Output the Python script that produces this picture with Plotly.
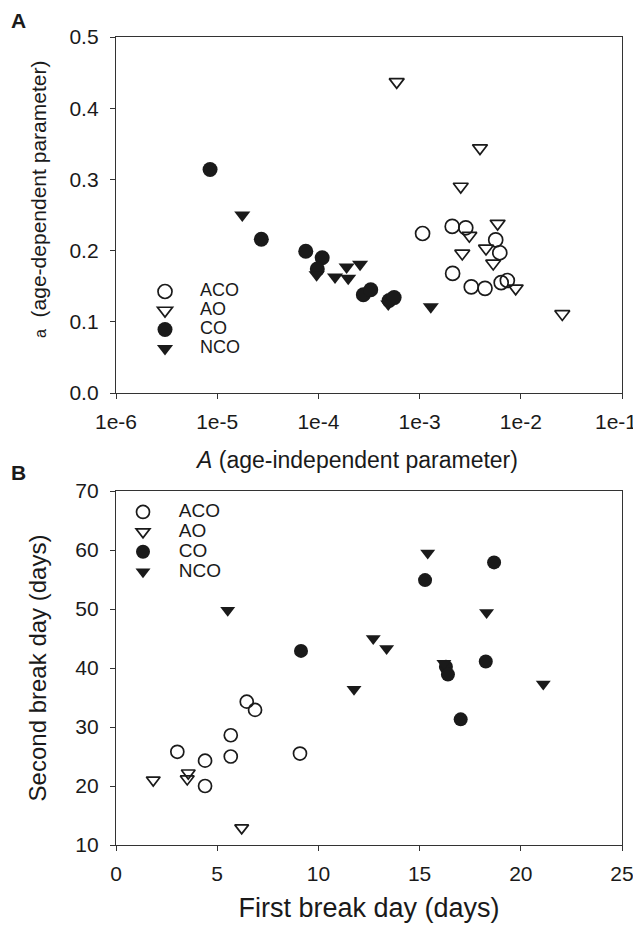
import plotly.graph_objects as go

# ---------------- Panel A data ----------------
aco_A_x = [1.07e-3, 2.1e-3, 2.86e-3, 5.65e-3, 6.2e-3, 2.12e-3, 3.24e-3, 4.43e-3, 6.4e-3, 7.36e-3]
aco_A_y = [0.224, 0.234, 0.232, 0.215, 0.197, 0.168, 0.149, 0.147, 0.155, 0.158]
ao_A_x = [5.94e-4, 3.95e-3, 2.55e-3, 5.9e-3, 3.1e-3, 2.64e-3, 4.53e-3, 5.34e-3, 8.9e-3, 2.57e-2]
ao_A_y = [0.437, 0.344, 0.290, 0.238, 0.221, 0.196, 0.203, 0.182, 0.147, 0.111]
co_A_x = [8.5e-6, 2.73e-5, 7.5e-5, 1.09e-4, 9.75e-5, 2.78e-4, 3.29e-4, 5.0e-4, 5.6e-4]
co_A_y = [0.314, 0.216, 0.199, 0.190, 0.174, 0.138, 0.145, 0.130, 0.134]
nco_A_x = [1.77e-5, 9.6e-5, 1.46e-4, 1.9e-4, 1.97e-4, 2.58e-4, 4.9e-4, 1.29e-3]
nco_A_y = [0.250, 0.166, 0.163, 0.177, 0.161, 0.181, 0.125, 0.121]

A_xtick_vals = [1e-6, 1e-5, 1e-4, 1e-3, 1e-2, 1e-1]
A_xtick_text = ["1e-6", "1e-5", "1e-4", "1e-3", "1e-2", "1e-1"]
A_ytick_vals = [0.0, 0.1, 0.2, 0.3, 0.4, 0.5]

# ---------------- Panel B data ----------------
aco_B_x = [6.46, 6.87, 5.67, 3.03, 4.40, 5.67, 9.09, 4.40]
aco_B_y = [34.3, 32.9, 28.6, 25.8, 24.3, 25.0, 25.5, 20.0]
ao_B_x = [1.84, 3.57, 3.52, 6.21]
ao_B_y = [21.0, 22.2, 21.2, 12.9]
co_B_x = [9.14, 18.68, 15.27, 16.3, 16.4, 18.27, 17.03]
co_B_y = [42.9, 57.9, 54.9, 40.2, 38.9, 41.1, 31.3]
nco_B_x = [5.52, 11.76, 15.4, 18.31, 12.71, 13.37, 16.2, 21.11]
nco_B_y = [49.8, 36.4, 59.5, 49.4, 45.0, 43.3, 40.8, 37.3]

B_xtick_vals = [0, 5, 10, 15, 20, 25]
B_ytick_vals = [10, 20, 30, 40, 50, 60, 70]

group_names = ["ACO", "AO", "CO", "NCO"]

FONT = "Liberation Sans, Arial, sans-serif"
INK = "#1a1a1a"
# The page body has an 8px margin; the figure starts at (8, 8) in the window.
PAD = 8
W, H = 641 - PAD, 928 - PAD


def px_x(p):
    return (p - PAD) / W


def px_y(p):
    return 1 - (p - PAD) / H


# the right-most tick label is drawn as a right-aligned text so it stays inside the window
A_xtick_shown = A_xtick_text[:-1] + [""]

fig = go.Figure()


def add(xs, ys, name, symbol, filled, xa, ya, legend, size, label_size):
    if filled:
        marker = dict(symbol=symbol, size=size, color=INK, line=dict(width=0))
    else:
        marker = dict(symbol=symbol + "-open", size=size, color=INK,
                      line=dict(width=1.7, color=INK))
    label = "<span style='font-size:%dpx'>&nbsp;&nbsp;&nbsp;%s</span>" % (label_size, name)
    fig.add_trace(go.Scatter(x=xs, y=ys, mode="markers", name=label, marker=marker,
                             xaxis=xa, yaxis=ya, legend=legend, showlegend=True))


add(aco_A_x, aco_A_y, group_names[0], "circle", False, "x", "y", "legend", 14, 18)
add(ao_A_x, ao_A_y, group_names[1], "triangle-down", False, "x", "y", "legend", 13, 18)
add(co_A_x, co_A_y, group_names[2], "circle", True, "x", "y", "legend", 15, 18)
add(nco_A_x, nco_A_y, group_names[3], "triangle-down", True, "x", "y", "legend", 14, 18)

add(aco_B_x, aco_B_y, group_names[0], "circle", False, "x2", "y2", "legend2", 13, 19)
add(ao_B_x, ao_B_y, group_names[1], "triangle-down", False, "x2", "y2", "legend2", 12, 19)
add(co_B_x, co_B_y, group_names[2], "circle", True, "x2", "y2", "legend2", 14, 19)
add(nco_B_x, nco_B_y, group_names[3], "triangle-down", True, "x2", "y2", "legend2", 13, 19)

axis_common = dict(showline=True, linecolor="#333", linewidth=1.3, mirror=True,
                   ticks="outside", ticklen=5, tickwidth=1.2, tickcolor="#333",
                   showgrid=False, zeroline=False, automargin=False,
                   ticklabeloverflow="allow",
                   tickfont=dict(family=FONT, size=21, color=INK))

fig.update_layout(
    template="none",
    width=W, height=H,
    margin=dict(l=0, r=0, t=0, b=0, autoexpand=False),
    paper_bgcolor="white", plot_bgcolor="white",
    font=dict(family=FONT, color=INK),
    showlegend=True,
    xaxis=dict(axis_common, type="log", range=[-6, -1], domain=[px_x(116), px_x(622)],
               anchor="y", tickvals=A_xtick_vals, ticktext=A_xtick_shown, ticklabelstandoff=5),
    yaxis=dict(axis_common, range=[0, 0.5], domain=[px_y(393), px_y(37)], anchor="x",
               tickvals=A_ytick_vals, tickformat=".1f", ticklabelstandoff=7),
    xaxis2=dict(axis_common, range=[0, 25], domain=[px_x(116), px_x(622)], anchor="y2",
                tickvals=B_xtick_vals, ticklabelstandoff=5,
                title=dict(text="First break day (days)",
                           font=dict(family=FONT, size=27, color=INK), standoff=13)),
    yaxis2=dict(axis_common, range=[10, 70], domain=[px_y(845), px_y(491)], anchor="x2",
                tickvals=B_ytick_vals, ticklabelstandoff=7,
                title=dict(text="Second break day (days)",
                           font=dict(family=FONT, size=24, color=INK), standoff=21)),
    legend=dict(x=px_x(145), y=px_y(277), xanchor="left", yanchor="top",
                bgcolor="rgba(0,0,0,0)", borderwidth=0, tracegroupgap=0,
                font=dict(family=FONT, size=12, color=INK), itemsizing="trace"),
    legend2=dict(x=px_x(123), y=px_y(497), xanchor="left", yanchor="top",
                 bgcolor="rgba(0,0,0,0)", borderwidth=0, tracegroupgap=0,
                 font=dict(family=FONT, size=13, color=INK), itemsizing="trace"),
    annotations=[
        dict(text=A_xtick_text[-1], x=px_x(639), y=px_y(421), xref="paper", yref="paper",
             xanchor="right", yanchor="middle", showarrow=False,
             font=dict(family=FONT, size=21, color=INK)),
        dict(text="<i>A</i> (age-independent parameter)", x=px_x(356), y=px_y(460),
             xref="paper", yref="paper", xanchor="center", yanchor="middle",
             showarrow=False, font=dict(family=FONT, size=23, color=INK)),
        dict(text="<span style='font-size:16px'>a</span>  (age-dependent parameter)",
             x=px_x(38), y=px_y(200), xref="paper", yref="paper", textangle=-90,
             xanchor="center", yanchor="middle", showarrow=False,
             font=dict(family=FONT, size=21, color=INK)),
        dict(text="<b>A</b>", x=px_x(9), y=px_y(21), xref="paper", yref="paper",
             xanchor="left", yanchor="middle", showarrow=False,
             font=dict(family=FONT, size=21, color=INK)),
        dict(text="<b>B</b>", x=px_x(9), y=px_y(472), xref="paper", yref="paper",
             xanchor="left", yanchor="middle", showarrow=False,
             font=dict(family=FONT, size=21, color=INK)),
    ],
)

fig.write_html("out.html")
